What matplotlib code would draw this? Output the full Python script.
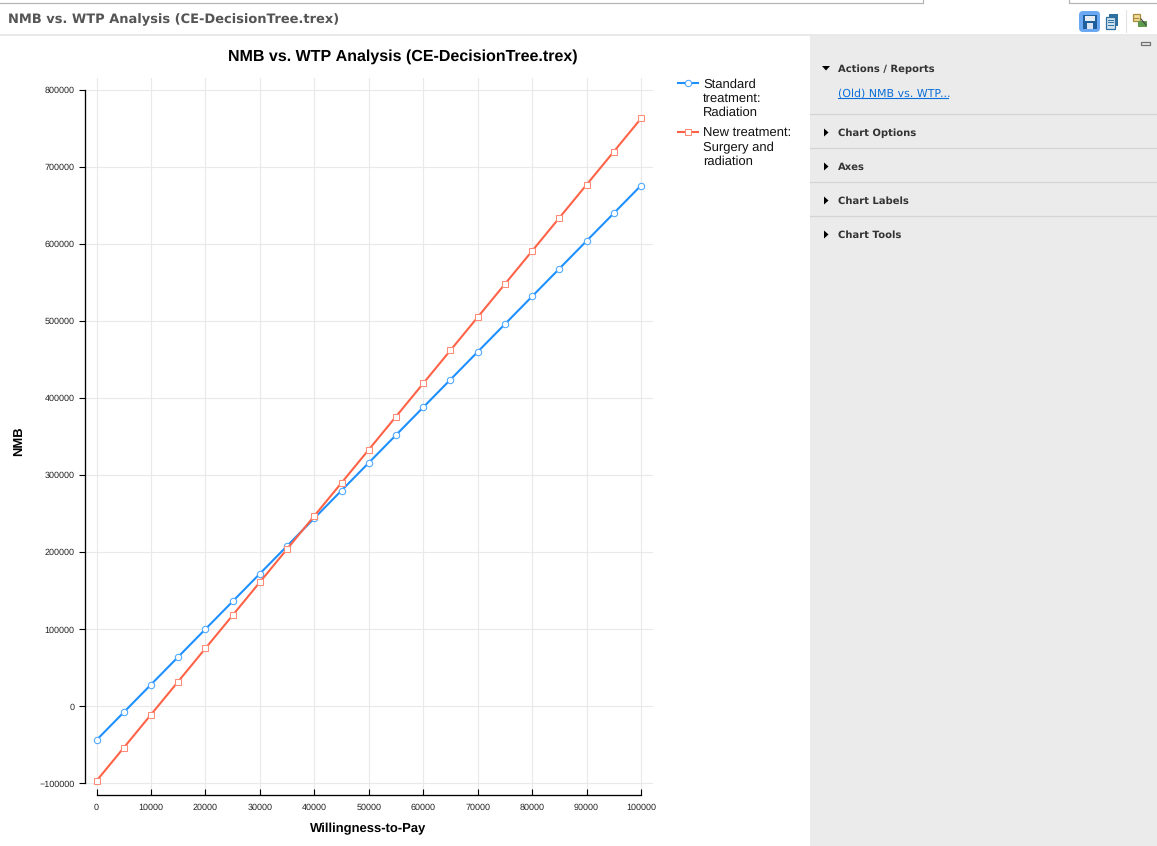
"""NMB vs. WTP chart inside its TreeAge-style report window."""
import matplotlib
matplotlib.use("Agg")
import matplotlib.pyplot as plt
from matplotlib.patches import FancyBboxPatch, Polygon, Rectangle

plt.rcParams["text.hinting"] = "no_hinting"
plt.rcParams["text.hinting_factor"] = 1

W, H = 1157, 846

wtp = [0, 5000, 10000, 15000, 20000, 25000, 30000, 35000, 40000, 45000, 50000,
       55000, 60000, 65000, 70000, 75000, 80000, 85000, 90000, 95000, 100000]
nmb_standard = [-44000, -8000, 28000, 64000, 100000, 136000, 172000, 208000,
                244000, 280000, 316000, 352000, 388000, 424000, 460000, 496000,
                532000, 568000, 604000, 640000, 676000]
nmb_new = [-97000, -54000, -11000, 32000, 75000, 118000, 161000, 204000,
           247000, 290000, 333000, 376000, 419000, 462000, 505000, 548000,
           591000, 634000, 677000, 720000, 763000]
x_ticks = [0, 10000, 20000, 30000, 40000, 50000, 60000, 70000, 80000, 90000, 100000]
y_ticks = [-100000, 0, 100000, 200000, 300000, 400000, 500000, 600000, 700000, 800000]
label_standard = "Standard\ntreatment:\nRadiation"
label_new = "New treatment:\nSurgery and\nradiation"
window_title = "NMB vs. WTP Analysis (CE-DecisionTree.trex)"
panel_sections = ["Chart Options", "Axes", "Chart Labels", "Chart Tools"]

BLUE = "#1e90ff"
RED = "#ff6347"
BLUE_EDGE = "#4aa6ff"
RED_EDGE = "#ff8a75"
ARIAL = "Liberation Sans"
UI_FONT = "DejaVu Sans"


def draw_chrome(fig):
    ui = fig.add_axes([0, 0, 1, 1], zorder=0)
    ui.set_xlim(0, W)
    ui.set_ylim(H, 0)
    ui.axis("off")

    # window tabs along the top edge
    ui.plot([0, 923, 923], [3.5, 3.5, 0], color="#b5b5b5", lw=0.9)
    ui.plot([1069, 1069, W], [0, 3.5, 3.5], color="#b5b5b5", lw=0.9)
    ui.text(8, 20, window_title, family=UI_FONT, weight="bold", fontsize=9.05,
            color="#555555", va="center", ha="left")
    ui.add_patch(Rectangle((0, 34), W, 2, color="#e9e9e9", lw=0))

    # side panel
    ui.add_patch(Rectangle((810, 36), W - 810, H - 36, color="#ebebeb", lw=0))
    ui.add_patch(Rectangle((1141, 42.5), 9, 3, fc="#ebebeb", ec="#707070", lw=0.9))
    ui.add_patch(Polygon([(822, 66), (830, 66), (826, 70.5)], color="black", lw=0))
    ui.text(838, 69.3, "Actions / Reports", family=UI_FONT, weight="bold",
            fontsize=7.3, color="#333333", va="center")
    ui.text(837.5, 93.8, "(Old) NMB vs. WTP...", family=UI_FONT, fontsize=7.6,
            color="#0a6fd8", va="center")
    ui.plot([837.5, 948], [98.5, 98.5], color="#0a6fd8", lw=0.8)
    for i, name in enumerate(panel_sections):
        y = 132.5 + 34 * i
        ui.plot([810, W], [y - 18.3, y - 18.3], color="#d4d4d4", lw=0.9)
        ui.add_patch(Polygon([(824, y - 4), (824, y + 4), (828.5, y)],
                             color="black", lw=0))
        ui.text(838, y + 0.8, name, family=UI_FONT, weight="bold", fontsize=7.3,
                color="#333333", va="center")

    # toolbar icons
    ui.add_patch(FancyBboxPatch((1081, 13), 17, 17, boxstyle="round,pad=2,rounding_size=4",
                                fc="#6aa9f2", ec="none"))
    ui.add_patch(Rectangle((1083, 15), 14, 14, fc="#1f5f9e", ec="none"))
    ui.add_patch(Rectangle((1085, 16), 10, 5, fc="#e8eef5", ec="none"))
    ui.add_patch(Rectangle((1087, 23), 6, 6, fc="#dbe6f2", ec="none"))
    ui.add_patch(Rectangle((1109, 14), 9, 12, fc="#2f6f9f", ec="none"))
    ui.add_patch(Rectangle((1105.5, 17), 9, 12, fc="#cfe2f2", ec="#2f6f9f", lw=0.9))
    for y in (20, 22.5, 25):
        ui.plot([1107.5, 1112.5], [y, y], color="#2f6f9f", lw=0.7)
    ui.plot([1125.5, 1125.5], [10, 32], color="#e2e2e2", lw=0.8)
    ui.add_patch(Rectangle((1132.5, 14.5), 7, 7, fc="#f3dc9a", ec="#a98d3e", lw=0.9))
    ui.plot([1134, 1138], [18, 18], color="#a98d3e", lw=0.8)
    ui.add_patch(Polygon([(1138, 21), (1147, 21), (1147, 27.5), (1138, 27.5)],
                         color="#5f9a4e", lw=0))
    ui.plot([1141, 1146], [19, 25], color="#444444", lw=0.8)

    # legend: the key sits on the first text line, so place it by hand
    key = dict(lw=1.5, ms=4.6, mew=0.75, mfc="white")
    ui.plot([678, 698], [83, 83], "-", color=BLUE, lw=1.5)
    ui.plot([688], [83], "o", color=BLUE, mec=BLUE_EDGE, **key)
    ui.plot([678, 698], [132, 132], "-", color=RED, lw=1.5)
    ui.plot([688], [132], "s", color=RED, mec=RED_EDGE, **key)
    for y, label in ((98.3, label_standard), (147.6, label_new)):
        ui.text(703, y, label, family=ARIAL, fontsize=9.1, color="#111111",
                va="center", ha="left", linespacing=1.2)


def draw_chart(fig):
    # axes box in pixels, left spine to right end of the grid
    left, right, top, bottom = 84.5, 653, 78, 795
    ax = fig.add_axes([left / W, 1 - bottom / H, (right - left) / W, (bottom - top) / H],
                      zorder=1)
    ax.patch.set_alpha(0)
    x_scale = (641 - 96.5) / 100000
    y_scale = (783.2 - 90) / 900000
    ax.set_xlim(-(96.5 - left) / x_scale, (right - 96.5) / x_scale)
    ax.set_ylim(-100000 - (bottom - 783.2) / y_scale, 800000 + (90 - top) / y_scale)

    ax.grid(True, color="#e9e9e9", lw=0.85)
    ax.set_axisbelow(True)
    for side in ("top", "right"):
        ax.spines[side].set_visible(False)
    ax.spines["left"].set_bounds(-100000, 800000)
    ax.spines["bottom"].set_bounds(0, 100000)
    ax.spines["left"].set_linewidth(0.95)
    ax.spines["bottom"].set_linewidth(0.95)

    ax.set_xticks(x_ticks, [str(v) for v in x_ticks])
    ax.set_yticks(y_ticks, [str(v).replace("-", "\u2212") for v in y_ticks])
    ax.tick_params(axis="x", direction="in", length=4.3, width=0.8, pad=6.0)
    ax.tick_params(axis="y", length=4.3, width=0.8, pad=2.8)
    ax.tick_params(labelsize=6.75, labelcolor="#222222")
    for lab in ax.get_xticklabels() + ax.get_yticklabels():
        lab.set_family(ARIAL)

    style = dict(lw=1.5, ms=4.6, mew=0.75, mfc="white", clip_on=False)
    ax.plot(wtp, nmb_standard, "-o", color=BLUE, mec=BLUE_EDGE, **style)
    ax.plot(wtp, nmb_new, "-s", color=RED, mec=RED_EDGE, **style)

    fig.text(402.5 / W, 1 - 57 / H, window_title, family=ARIAL, weight="bold",
             fontsize=11.55, ha="center", va="center")
    fig.text(368 / W, 1 - 828.5 / H, "Willingness-to-Pay", family=ARIAL, weight="bold",
             fontsize=9.4, ha="center", va="center")
    fig.text(18.5 / W, 1 - 441 / H, "NMB", family=ARIAL, weight="bold", fontsize=9.2,
             rotation=90, ha="center", va="center")


if __name__ == "__main__":
    fig = plt.figure(figsize=(W / 100, H / 100), dpi=100, facecolor="white")
    draw_chrome(fig)
    draw_chart(fig)
    fig.savefig("out.png", dpi=100)
